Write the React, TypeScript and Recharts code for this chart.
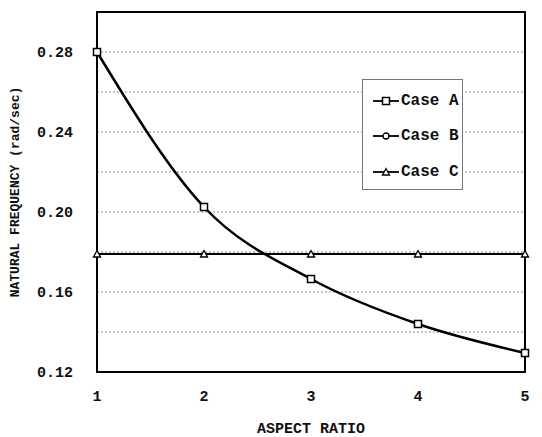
import React from 'react';
import { LineChart, Line, XAxis, YAxis, CartesianGrid, ReferenceArea } from 'recharts';

const aspectRatio = [1, 2, 3, 4, 5];
const caseA = [0.28, 0.2025, 0.1665, 0.144, 0.1295];
const caseB = [0.179, 0.179, 0.179, 0.179, 0.179];
const caseC = [0.179, 0.179, 0.179, 0.179, 0.179];
const yTicks = [0.12, 0.14, 0.16, 0.18, 0.2, 0.22, 0.24, 0.26, 0.28, 0.3];
const seriesNames = ['Case A', 'Case B', 'Case C'];

const data = aspectRatio.map((x, i) => ({ x, a: caseA[i], b: caseB[i], c: caseC[i] }));

const FONT = '"Liberation Mono", "DejaVu Sans Mono", monospace';

const Square = (props: any) => {
  const { cx, cy } = props;
  if (cx == null || cy == null) return null;
  return <rect x={cx - 3.5} y={cy - 3.5} width={7} height={7} fill="#fff" stroke="#000" strokeWidth={1.5} />;
};

const Circle = (props: any) => {
  const { cx, cy } = props;
  if (cx == null || cy == null) return null;
  return <circle cx={cx} cy={cy} r={3} fill="#fff" stroke="#000" strokeWidth={1.3} />;
};

const Triangle = (props: any) => {
  const { cx, cy } = props;
  if (cx == null || cy == null) return null;
  return (
    <polygon
      points={`${cx - 3.5},${cy + 3} ${cx + 3.5},${cy + 3} ${cx},${cy - 3.5}`}
      fill="#fff"
      stroke="#000"
      strokeWidth={1.3}
    />
  );
};

const markers = [Square, Circle, Triangle];

// legend box sits inside the plot, drawn as an overlay so it doesn't eat plot space
const LegendBox = () => (
  <div
    style={{
      position: 'absolute',
      left: 362,
      top: 79,
      width: 101,
      height: 111,
      border: '1px solid #777',
      background: '#fff',
      boxSizing: 'border-box',
      paddingTop: 3,
    }}
  >
    {seriesNames.map((label, i) => {
      const Marker = markers[i];
      return (
        <div key={label} style={{ display: 'flex', alignItems: 'center', height: 35.5 }}>
          <svg width={28} height={14} style={{ marginLeft: 9 }}>
            <line x1={1} y1={7} x2={27} y2={7} stroke="#000" strokeWidth={1.8} />
            <Marker cx={14} cy={7} />
          </svg>
          <span style={{ fontFamily: FONT, fontWeight: 'bold', fontSize: 16, color: '#111', marginLeft: 1 }}>
            {label}
          </span>
        </div>
      );
    })}
  </div>
);

export default function App() {
  return (
    <div style={{ position: 'absolute', left: 0, top: 0, width: 542, height: 437, background: '#fff' }}>
      <LineChart width={542} height={437} data={data} margin={{ top: 12, right: 17, bottom: 0, left: 0 }}>
        <CartesianGrid vertical={false} stroke="#888" strokeDasharray="2 2" />
        <XAxis
          dataKey="x"
          type="number"
          domain={[1, 5]}
          ticks={aspectRatio}
          height={65}
          axisLine={false}
          tickLine={false}
          tickMargin={12}
          tick={{ fontFamily: FONT, fontWeight: 'bold', fontSize: 15, fill: '#111' }}
          label={{
            value: 'ASPECT RATIO',
            position: 'insideBottom',
            offset: 4,
            style: { fontFamily: FONT, fontWeight: 'bold', fontSize: 15, fill: '#111' },
          }}
        />
        <YAxis
          type="number"
          domain={[0.12, 0.3]}
          ticks={yTicks}
          width={97}
          axisLine={false}
          tickLine={false}
          tickMargin={18}
          interval={0}
          tickFormatter={(v: number) => (Math.round(v * 100) % 4 === 0 ? v.toFixed(2) : '')}
          tick={{ fontFamily: FONT, fontWeight: 'bold', fontSize: 15, fill: '#111' }}
          label={{
            value: 'NATURAL FREQUENCY (rad/sec)',
            angle: -90,
            position: 'insideLeft',
            offset: 14,
            style: { fontFamily: FONT, fontWeight: 'bold', fontSize: 13, fill: '#111', textAnchor: 'middle' },
          }}
        />
        <Line dataKey="c" name={seriesNames[2]} type="linear" stroke="#000" strokeWidth={2} dot={<Triangle />} isAnimationActive={false} />
        <Line dataKey="b" name={seriesNames[1]} type="linear" stroke="#000" strokeWidth={2} dot={false} isAnimationActive={false} />
        <Line dataKey="a" name={seriesNames[0]} type="monotone" stroke="#000" strokeWidth={2.5} dot={<Square />} isAnimationActive={false} />
        <ReferenceArea x1={1} x2={5} y1={0.12} y2={0.3} fill="none" stroke="#000" strokeWidth={2} ifOverflow="visible" />
      </LineChart>
      <LegendBox />
    </div>
  );
}
